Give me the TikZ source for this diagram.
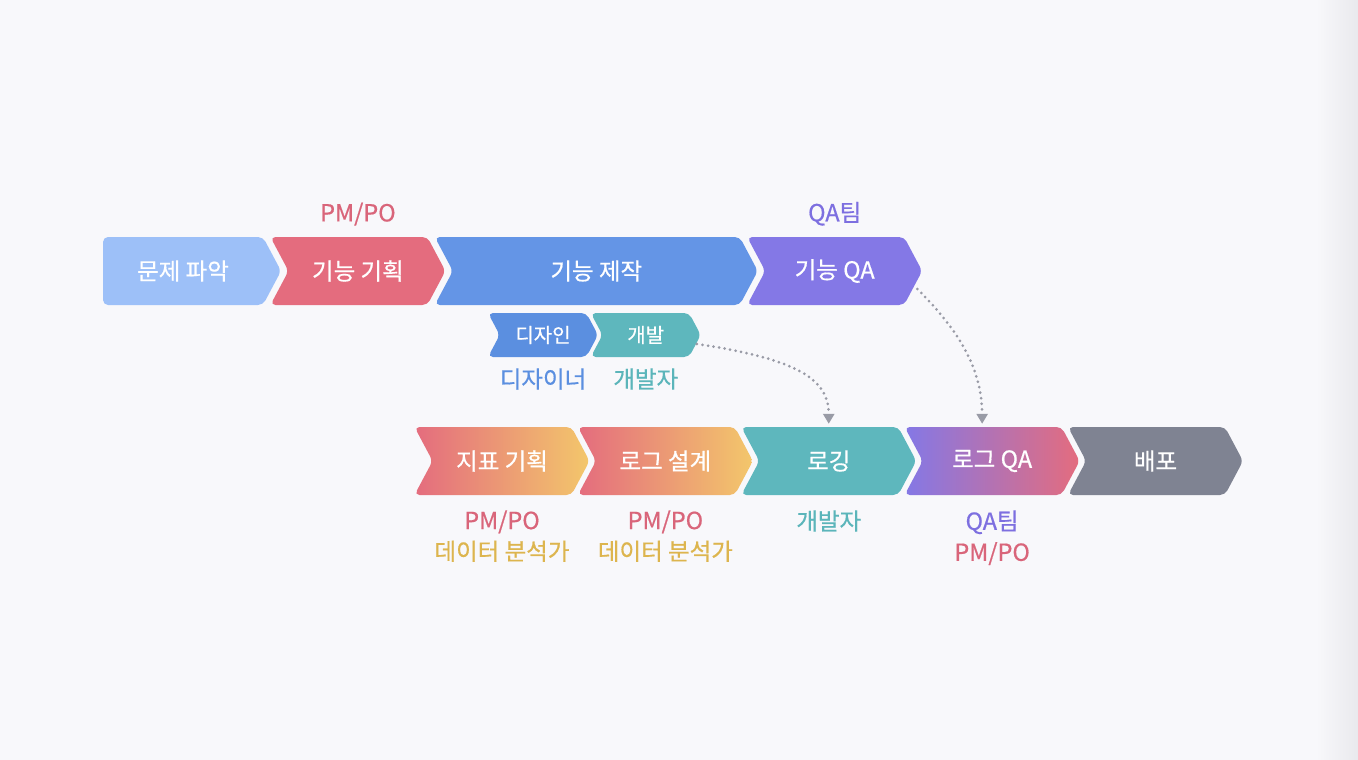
\documentclass[tikz,border=0pt]{standalone}
\usepackage{fontspec}
\setmainfont{Noto Sans CJK KR}[FakeBold=0.6]
\usepackage{xcolor}
\definecolor{pageBg}{HTML}{F8F8FB}
\definecolor{edgeShade}{HTML}{E9E9ED}
\definecolor{stepLight}{HTML}{9DC0F8}
\definecolor{stepPink}{HTML}{E46C7E}
\definecolor{stepBlue}{HTML}{6495E6}
\definecolor{stepPurple}{HTML}{8478E6}
\definecolor{stepTeal}{HTML}{5EB7BD}
\definecolor{stepYellow}{HTML}{F3C76B}
\definecolor{stepGray}{HTML}{7F8392}
\definecolor{rolePink}{HTML}{D9657A}
\definecolor{rolePurple}{HTML}{7D6FE0}
\definecolor{roleBlue}{HTML}{5B8FE0}
\definecolor{roleTeal}{HTML}{5BB5BA}
\definecolor{roleGold}{HTML}{DDB54E}
\definecolor{dotGray}{HTML}{999BA6}
\usetikzlibrary{shapes.symbols,positioning,arrows.meta}
\tikzset{%
  stepShape/.style={%
    signal,
    signal to=east,
    signal from=west,
    signal pointer angle=124,
    rounded corners=5pt,
    minimum width=175pt,
    minimum height=68pt,
    inner sep=0pt,
    text=white,
    font=\fontsize{23.5}{26}\selectfont
  },
  firstStep/.style={%
    stepShape,
    signal from=nowhere,
    minimum width=178pt
  },
  smallStep/.style={%
    stepShape,
    minimum width=110pt,
    minimum height=44pt,
    font=\fontsize{20}{22}\selectfont
  },
  roleText/.style={%
    inner sep=0pt,
    align=center,
    font=\fontsize{23.5}{31}\selectfont
  },
  handoff/.style={%
    draw=dotGray,
    line width=3pt,
    line cap=round,
    dash pattern=on 0pt off 5.6pt,
    -{Triangle[length=10pt,width=11pt]}
  }
}

\begin{document}
\begin{tikzpicture}[x=1pt,y=-1pt]
  \fill[pageBg] (0,0) rectangle (1358,760);
  \shade[left color=pageBg,right color=edgeShade] (1316,0) rectangle (1358,760);
  \useasboundingbox (0,0) rectangle (1358,760);

  % top row
  \node[firstStep, fill=stepLight] (problem) at (183,271) {문제 파악};
  \node[stepShape, fill=stepPink, right=7pt of problem] (plan) {기능 기획};
  \node[stepShape, fill=stepBlue, minimum width=323pt, right=7pt of plan] (build) {기능 제작};
  \node[stepShape, fill=stepPurple, right=7pt of build] (featQA) {기능 QA};
  \node[roleText, text=rolePink, above=11pt of plan] (planRole) {PM/PO};
  \node[roleText, text=rolePurple, above=11pt of featQA] (featQARole) {QA팀};

  % design / dev
  \node[smallStep, fill=roleBlue] (design) at (543,335) {디자인};
  \node[smallStep, fill=stepTeal, right=4pt of design] (dev) {개발};
  \node[roleText, text=roleBlue, below=11pt of design] (designRole) {디자이너};
  \node[roleText, text=roleTeal, below=11pt of dev] (devRole) {개발자};

  % bottom row
  \node[stepShape, left color=stepPink, right color=stepYellow] (metric) at (502,461) {지표 기획};
  \node[stepShape, left color=stepPink, right color=stepYellow, right=6pt of metric] (logDesign) {로그 설계};
  \node[stepShape, fill=stepTeal, right=6pt of logDesign] (logging) {로깅};
  \node[stepShape, left color=stepPurple, right color=stepPink, right=6pt of logging] (logQA) {로그 QA};
  \node[stepShape, fill=stepGray, right=6pt of logQA] (release) {배포};

  \node[roleText, below=15pt of metric] (metricRole) {{\color{rolePink}PM/PO}\\{\color{roleGold}데이터 분석가}};
  \node[roleText, below=15pt of logDesign] (logDesignRole) {{\color{rolePink}PM/PO}\\{\color{roleGold}데이터 분석가}};
  \node[roleText, text=roleTeal, below=15pt of logging] (loggingRole) {개발자};
  \node[roleText, below=15pt of logQA] (logQARole) {{\color{rolePurple}QA팀}\\{\color{rolePink}PM/PO}};

  \draw[handoff] ([shift={(-4,9)}]dev.east) .. controls +(100,15) and +(0,-45) .. ([yshift=3pt]logging.north);
  \draw[handoff] ([shift={(-5,18)}]featQA.east) .. controls +(35,35) and +(0,-60) .. ([shift={(-10,-3)}]logQA.north);
\end{tikzpicture}
\end{document}
